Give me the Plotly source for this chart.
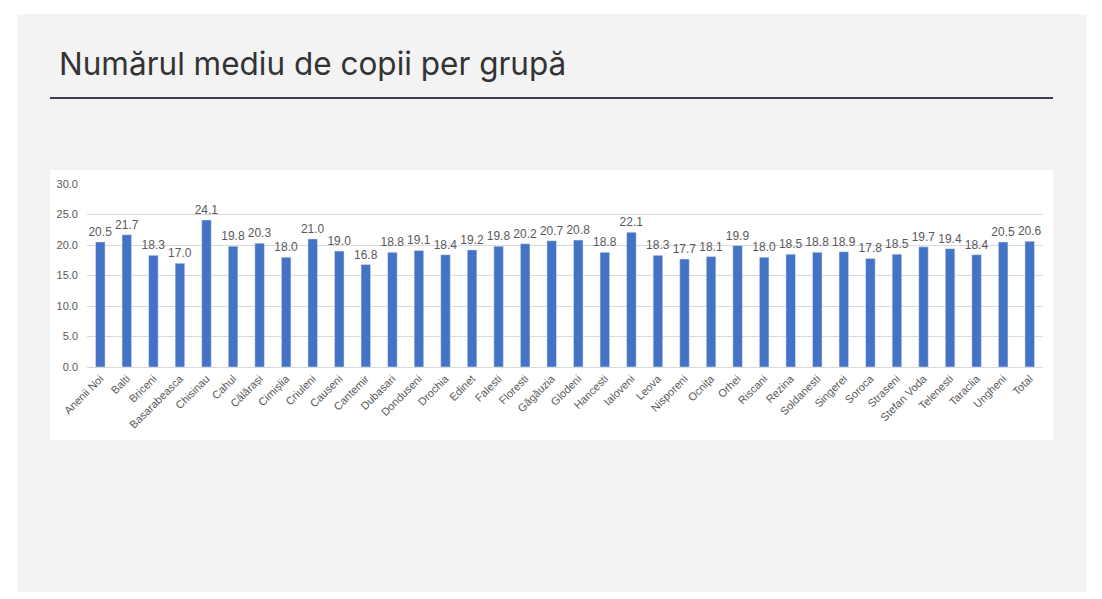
import plotly.graph_objects as go

# the page body has an 8px margin, so the figure is drawn 8px in from the window corner
OFF = 8
W, H = 1102 - OFF, 599 - OFF

districts = ["Anenii Noi", "Balti", "Briceni", "Basarabeasca", "Chisinau", "Cahul",
             "Călărași", "Cimișlia", "Criuleni", "Causeni", "Cantemir", "Dubasari",
             "Donduseni", "Drochia", "Edinet", "Falesti", "Floresti", "Găgăuzia",
             "Glodeni", "Hancesti", "Ialoveni", "Leova", "Nisporeni", "Ocnița",
             "Orhei", "Riscani", "Rezina", "Soldanesti", "Singerei", "Soroca",
             "Straseni", "Stefan Voda", "Telenesti", "Taraclia", "Ungheni", "Total"]
avg_children = [20.5, 21.7, 18.3, 17.0, 24.1, 19.8,
                20.3, 18.0, 21.0, 19.0, 16.8, 18.8,
                19.1, 18.4, 19.2, 19.8, 20.2, 20.7,
                20.8, 18.8, 22.1, 18.3, 17.7, 18.1,
                19.9, 18.0, 18.5, 18.8, 18.9, 17.8,
                18.5, 19.7, 19.4, 18.4, 20.5, 20.6]
y_ticks = [0, 5, 10, 15, 20, 25, 30]


def px_x(v):
    # window pixel -> paper fraction
    return (v - OFF) / W


def px_y(v):
    # window pixel from top -> paper fraction from bottom
    return (H - (v - OFF)) / H


fig = go.Figure()
fig.add_trace(go.Bar(
    x=districts, y=avg_children,
    marker_color="#4472C4",
    texttemplate="%{y:.1f}", textposition="outside", constraintext="none",
    textfont=dict(size=12, color="#595959", family="Liberation Sans"),
    cliponaxis=False,
    hoverinfo="x+y",
))

shapes = [
    # slide background
    dict(type="rect", xref="paper", yref="paper", x0=px_x(17), x1=px_x(1087),
         y0=px_y(592), y1=px_y(14), fillcolor="#f3f3f4", line_width=0, layer="below"),
    # chart box
    dict(type="rect", xref="paper", yref="paper", x0=px_x(50), x1=px_x(1053),
         y0=px_y(440), y1=px_y(170), fillcolor="white", line_width=0, layer="below"),
    # title underline
    dict(type="line", xref="paper", yref="paper", x0=px_x(50), x1=px_x(1053),
         y0=px_y(98), y1=px_y(98), line=dict(color="#3d3d4f", width=2)),
]

fig.update_layout(
    width=W, height=H,
    margin=dict(l=0, r=0, t=0, b=0, pad=0),
    paper_bgcolor="white", plot_bgcolor="rgba(0,0,0,0)",
    showlegend=False,
    bargap=0.64,
    shapes=shapes,
    font=dict(family="Liberation Sans", color="#595959"),
    annotations=[dict(
        text="Numărul mediu de copii per grupă", xref="paper", yref="paper",
        x=px_x(57), y=px_y(63), xanchor="left", yanchor="middle", showarrow=False,
        font=dict(family="Inter", size=31.5, color="#333333"),
    )],
    xaxis=dict(
        domain=[px_x(87), px_x(1043)], automargin=False,
        tickangle=-45, tickfont=dict(size=11, color="#595959"),
        showgrid=False, showline=True, linecolor="#d9d9d9", ticks="",
    ),
    yaxis=dict(
        domain=[px_y(367), px_y(184)], range=[0, 30], automargin=False,
        tickvals=y_ticks, tickformat=".1f",
        tickfont=dict(size=11, color="#595959"),
        gridcolor="#d9d9d9", zeroline=False, ticks="", ticklabelstandoff=8,
    ),
)

fig.write_html("out.html")
